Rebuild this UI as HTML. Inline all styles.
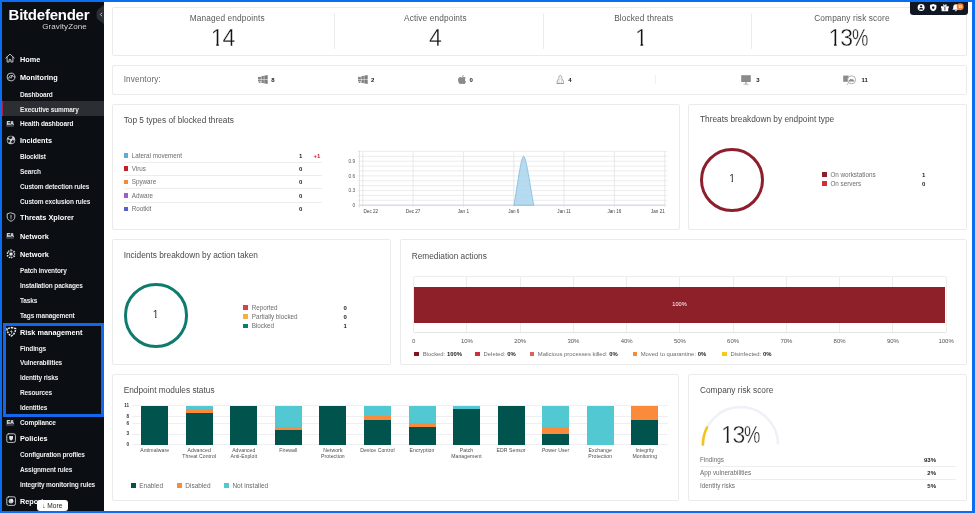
<!DOCTYPE html>
<html lang="en"><head><meta charset="utf-8"><title>GravityZone - Executive summary</title>
<style>
*{box-sizing:border-box;margin:0;padding:0}
html,body{width:975px;height:513px;overflow:hidden}
body{background:#0b6df2;font-family:"Liberation Sans","DejaVu Sans",sans-serif;position:relative;color:#333}
#frame{position:absolute;left:2px;top:2px;width:970.3px;height:508.9px;background:#fff;overflow:hidden}
#side{position:absolute;left:0;top:0;width:101.8px;height:508.9px;background:#0b0e13}
.abs{position:absolute}
.t{position:absolute;white-space:nowrap;line-height:1}
.l1{font-size:7.3px;font-weight:700;color:#fff;left:18px}
.l2{font-size:6.5px;font-weight:700;color:#eceded;left:18px;letter-spacing:-0.14px}
.l3{font-size:6.5px;font-weight:700;color:#f4f4f4;left:18px;letter-spacing:-0.1px}
.sic{position:absolute;overflow:visible}
.ea{position:absolute;left:4.2px;width:8.2px;height:6.2px;background:#393d45;border-radius:1px;color:#fff;font-size:4.9px;font-weight:700;line-height:6.3px;text-align:center;letter-spacing:-0.15px}
.card{position:absolute;background:#fff;border:1px solid #ebebec;border-radius:2px}
.ttl{position:absolute;white-space:nowrap;font-size:8.3px;color:#4a4a4a;line-height:1}
.sm{position:absolute;white-space:nowrap;font-size:6.3px;color:#555;line-height:1}
.b{font-weight:700;color:#222}
.one{display:inline-block;clip-path:polygon(0 -0.2em,1em -0.2em,1em .725em,.35em .725em,.35em 1.2em,.235em 1.2em,.235em .725em,0 .725em)}
.one2{display:inline-block;clip-path:polygon(0 -0.2em,1em -0.2em,1em .68em,.36em .68em,.36em 1.2em,.22em 1.2em,.22em .68em,0 .68em)}
.sq{position:absolute;width:4.5px;height:4.5px;margin:-0.15px 0 0 -0.15px}
.hl{position:absolute;height:1px;background:#ededee}
.vl{position:absolute;width:1px;background:#ececec}
</style></head><body>
<div id="frame">
<div id="side">

<div class="t" style="left:6.6px;top:4.7px;font-size:15px;font-weight:700;color:#fff;letter-spacing:-0.24px">Bitdefender</div>
<div class="t" style="left:40.3px;top:20.7px;font-size:8px;color:#d4d5d7;letter-spacing:0.08px">GravityZone</div>
<svg class="abs" style="left:93.5px;top:2.5px" width="8" height="19" viewBox="0 0 8 19"><path d="M8 0 L2.5 4 Q0.6 5.5 0.6 7.5 V11.5 Q0.6 13.5 2.5 15 L8 19 Z" fill="#2a2e35"/><path d="M6 7.8 L4.4 9.5 L6 11.2" fill="none" stroke="#d0d2d6" stroke-width="0.9"/></svg>
<div class="abs" style="left:0;top:99.3px;width:101.5px;height:14.8px;background:#2b2e33"></div><div class="abs" style="left:0;top:99.3px;width:1.3px;height:14.8px;background:#b0243f"></div>
<div class="t l1" style="top:54.0px">Home</div>
<svg class="sic" style="left:3.3000000000000003px;top:51.1px" width="10" height="10" viewBox="0 0 10 10"><path d="M0.8 5 L5 1.1 L9.2 5 M2.1 4.2 V9 H4.1 V6.6 H5.9 V9 H7.9 V4.2" fill="none" stroke="#cfd2d6" stroke-width="0.9" stroke-linejoin="round" stroke-linecap="round" stroke-width="0.75"/></svg>
<div class="t l1" style="top:72.3px">Monitoring</div>
<svg class="sic" style="left:3.6px;top:70.4px" width="10" height="10" viewBox="0 0 10 10"><circle cx="5" cy="5" r="3.9" fill="none" stroke="#cfd2d6" stroke-width="0.9" stroke-linejoin="round" stroke-linecap="round"/><path d="M5 5.6 L6.6 3.4 M2.8 6.4 A2.7 2.7 0 0 1 7.4 4.3" fill="none" stroke="#cfd2d6" stroke-width="0.9" stroke-linejoin="round" stroke-linecap="round" stroke-width="0.75"/><circle cx="5" cy="5.8" r="0.7" fill="#cfd2d6"/></svg>
<div class="t l2" style="top:89.5px">Dashboard</div>
<div class="t l2" style="top:104.5px">Executive summary</div>
<div class="t l3" style="top:118.8px">Health dashboard</div>
<div class="ea" style="top:119.0px">EA</div>
<div class="t l1" style="top:134.9px">Incidents</div>
<svg class="sic" style="left:3.6px;top:133.0px" width="10" height="10" viewBox="0 0 10 10"><circle cx="5" cy="5" r="3.9" fill="#b9bcc2" stroke="#e4e5e8" stroke-width="0.7"/><path d="M5 5 L2.2 2.6 A3.8 3.8 0 0 1 6.5 1.6 Z M5 5 L8.7 5.6 A3.8 3.8 0 0 1 5.6 8.6 Z M5 5 L2.8 8 A3.8 3.8 0 0 1 1.3 4.6 Z" fill="#1b1e24"/><circle cx="5" cy="5" r="1.1" fill="#e8e9eb"/></svg>
<div class="t l2" style="top:151.8px">Blocklist</div>
<div class="t l2" style="top:166.8px">Search</div>
<div class="t l2" style="top:181.8px">Custom detection rules</div>
<div class="t l2" style="top:196.5px">Custom exclusion rules</div>
<div class="t l1" style="top:211.9px">Threats Xplorer</div>
<svg class="sic" style="left:3.6px;top:210.0px" width="10" height="10" viewBox="0 0 10 10"><path d="M5 0.9 L8.8 2.2 V5 C8.8 7.2 7 8.6 5 9.3 C3 8.6 1.2 7.2 1.2 5 V2.2 Z" fill="none" stroke="#cfd2d6" stroke-width="0.9" stroke-linejoin="round" stroke-linecap="round"/><path d="M5 3.2 V5.6 M5 6.6 V6.9" fill="none" stroke="#cfd2d6" stroke-width="0.9" stroke-linejoin="round" stroke-linecap="round"/></svg>
<div class="t l1" style="top:230.6px">Network</div>
<div class="ea" style="top:231.3px">EA</div>
<div class="t l1" style="top:249.1px">Network</div>
<svg class="sic" style="left:3.6px;top:247.2px" width="10" height="10" viewBox="0 0 10 10"><circle cx="5" cy="5" r="1.5" fill="#e6e7ea"/><path d="M5 0.8 L8.6 2.9 V7.1 L5 9.2 L1.4 7.1 V2.9 Z" fill="none" stroke="#e6e7ea" stroke-width="1.1" stroke-dasharray="1.6 1.1"/><path d="M5 1 V9 M1.5 3 L8.5 7 M8.5 3 L1.5 7" stroke="#e6e7ea" stroke-width="0.5"/></svg>
<div class="t l2" style="top:266.4px">Patch inventory</div>
<div class="t l2" style="top:281.2px">Installation packages</div>
<div class="t l2" style="top:295.6px">Tasks</div>
<div class="t l2" style="top:310.7px">Tags management</div>
<div class="t l1" style="top:327.0px">Risk management</div>
<svg class="sic" style="left:3.6px;top:325.0px" width="10" height="10" viewBox="0 0 10 10"><path d="M5.3 0.6 L9.6 1.6 C9.6 5 7.8 7.6 5.3 9 C2.8 7.6 1 5 1 1.6 Z" fill="none" stroke="#eeeff1" stroke-width="1.5" stroke-dasharray="2 0.9"/><path d="M5.4 2.4 L4.2 5.1 H5.4 L4.9 7.4 L6.7 4.4 H5.5 Z" fill="#f2f2f4"/></svg>
<div class="t l2" style="top:344.0px">Findings</div>
<div class="t l2" style="top:358.2px">Vulnerabilities</div>
<div class="t l2" style="top:372.9px">Identity risks</div>
<div class="t l2" style="top:387.9px">Resources</div>
<div class="t l2" style="top:402.7px">Identities</div>
<div class="t l3" style="top:417.6px">Compliance</div>
<div class="ea" style="top:417.8px">EA</div>
<div class="t l1" style="top:433.3px">Policies</div>
<svg class="sic" style="left:3.6px;top:431.3px" width="10" height="10" viewBox="0 0 10 10"><rect x="0.8" y="0.8" width="8.6" height="8.6" rx="1.6" fill="none" stroke="#cfd2d6" stroke-width="0.9" stroke-linejoin="round" stroke-linecap="round"/><path d="M3.2 3 H7 V5.2 C7 6.4 6 7.1 5.1 7.4 C4.2 7.1 3.2 6.4 3.2 5.2 Z" fill="#dfe0e3"/></svg>
<div class="t l2" style="top:450.4px">Configuration profiles</div>
<div class="t l2" style="top:465.1px">Assignment rules</div>
<div class="t l2" style="top:480.1px">Integrity monitoring rules</div>
<div class="t l1" style="top:496.1px">Reports</div>
<svg class="sic" style="left:3.6px;top:494.1px" width="10" height="10" viewBox="0 0 10 10"><rect x="0.8" y="0.8" width="8.6" height="8.6" rx="1.6" fill="none" stroke="#cfd2d6" stroke-width="0.9" stroke-linejoin="round" stroke-linecap="round"/><circle cx="5" cy="5.2" r="2.4" fill="#c9cbd0"/><path d="M5 5.2 V2.8 A2.4 2.4 0 0 1 7.4 5.2 Z" fill="#f4f4f5"/></svg>
<div class="abs" style="left:1px;top:321.4px;width:100.8px;height:93.7px;border:3px solid #1467ea"></div>
<div class="abs" style="left:35px;top:498.1px;width:30.6px;height:10.6px;background:#fff;border-radius:3px;font-size:6.6px;color:#222;line-height:11.4px;text-align:center;white-space:nowrap">&#8595; More</div>
</div>
<div class="card" style="left:110px;top:4.7px;width:855px;height:49.2px"></div>
<div class="vl" style="left:332.3px;top:11px;height:36px"></div>
<div class="vl" style="left:540.5px;top:11px;height:36px"></div>
<div class="vl" style="left:749.2px;top:11px;height:36px"></div>
<div class="t" style="left:165.2px;width:120px;text-align:center;top:11.7px;font-size:8.3px;color:#595959;letter-spacing:0.12px">Managed endpoints</div>
<div class="t" style="left:160.6px;width:120px;text-align:center;top:24.5px;font-size:23px;color:#141414;letter-spacing:-1px;font-weight:400;-webkit-text-stroke:0.36px #fff"><span class="one">1</span>4</div>
<div class="t" style="left:373.4px;width:120px;text-align:center;top:11.7px;font-size:8.3px;color:#595959;letter-spacing:0.12px">Active endpoints</div>
<div class="t" style="left:373.4px;width:120px;text-align:center;top:24.5px;font-size:23px;color:#141414;letter-spacing:0;font-weight:400;-webkit-text-stroke:0.36px #fff">4</div>
<div class="t" style="left:581.7px;width:120px;text-align:center;top:11.7px;font-size:8.3px;color:#595959;letter-spacing:0.12px">Blocked threats</div>
<div class="t" style="left:579.5px;width:120px;text-align:center;top:24.5px;font-size:23px;color:#141414;letter-spacing:0;font-weight:400;-webkit-text-stroke:0.36px #fff"><span class="one">1</span></div>
<div class="t" style="left:790.0px;width:120px;text-align:center;top:11.7px;font-size:8.3px;color:#595959;letter-spacing:0.12px">Company risk score</div>
<div class="t" style="left:787.8px;width:120px;text-align:center;top:24.5px;font-size:23px;color:#141414;letter-spacing:-1.2px;font-weight:400;-webkit-text-stroke:0.36px #fff"><span class="one">1</span>3<span style="display:inline-block;transform:scaleX(0.8);transform-origin:0 50%">%</span></div>
<div class="card" style="left:110px;top:62.8px;width:855px;height:30px"></div>
<div class="ttl" style="left:121.7px;top:73.6px;font-size:8.2px;color:#686868;letter-spacing:0.12px">Inventory:</div>
<svg class="abs" style="left:255.5px;top:73.1px" width="10" height="9" viewBox="0 0 10 9"><path d="M3.4 1.2 L9.7 0.1 V4.25 H3.4 Z M3.4 4.75 H9.7 V8.9 L3.4 7.8 Z" fill="#7f7f7f"/><path d="M6.1 0.5 V8.4" stroke="#fff" stroke-width="0.45"/><rect x="0" y="1.9" width="2.9" height="2.1" fill="#858585"/><rect x="0" y="4.5" width="2.9" height="1.9" fill="#858585"/><rect x="0.8" y="6.6" width="1.6" height="1.4" fill="#858585"/></svg>
<svg class="abs" style="left:355.5px;top:73.1px" width="10" height="9" viewBox="0 0 10 9"><path d="M3.4 1.2 L9.7 0.1 V4.25 H3.4 Z M3.4 4.75 H9.7 V8.9 L3.4 7.8 Z" fill="#7f7f7f"/><path d="M6.1 0.5 V8.4" stroke="#fff" stroke-width="0.45"/><rect x="0" y="1.9" width="2.9" height="2.1" fill="#858585"/><rect x="0" y="4.5" width="2.9" height="1.9" fill="#858585"/><rect x="0.8" y="6.6" width="1.6" height="1.4" fill="#858585"/></svg>
<div class="t b" style="left:269.2px;top:74.8px;font-size:6px;color:#1a1a1a">8</div>
<div class="t b" style="left:369px;top:74.8px;font-size:6px;color:#1a1a1a">2</div>
<svg class="abs" style="left:455.6px;top:73px" width="8" height="9.4" viewBox="0 0 8 9.4"><path d="M5.6 0 C5.7 0.9 5 1.9 4 1.9 C3.9 1 4.7 0.1 5.6 0 Z M4.1 2.5 C4.6 2.5 5.2 2 6 2.1 C6.8 2.1 7.4 2.5 7.8 3.1 C6.5 3.9 6.7 5.8 8 6.4 C7.6 7.6 6.7 9.2 5.8 9.2 C5.2 9.2 4.9 8.8 4.1 8.8 C3.3 8.8 3 9.2 2.4 9.2 C1.4 9.2 0 7 0 5 C0 3.2 1.1 2.1 2.3 2.1 C3 2.1 3.6 2.5 4.1 2.5 Z" fill="#8b8b8b"/></svg>
<div class="t b" style="left:467.4px;top:74.8px;font-size:6px;color:#1a1a1a">0</div>
<svg class="abs" style="left:553.6px;top:72.9px" width="8.6" height="9.6" viewBox="0 0 8.6 9.6"><path d="M4.3 0.5 C5.3 0.5 5.7 1.3 5.7 2.4 C5.7 3.8 7.6 5.6 7.6 7.4 C7.6 8.2 6.9 8.5 6.2 8.5 H2.4 C1.7 8.5 1 8.2 1 7.4 C1 5.6 2.9 3.8 2.9 2.4 C2.9 1.3 3.3 0.5 4.3 0.5 Z" fill="#fff" stroke="#8a8a8a" stroke-width="0.75"/><ellipse cx="4.3" cy="6" rx="1.5" ry="2.1" fill="none" stroke="#b0b0b0" stroke-width="0.5"/><ellipse cx="2" cy="8.7" rx="1.5" ry="0.65" fill="#8f8f8f"/><ellipse cx="6.6" cy="8.7" rx="1.5" ry="0.65" fill="#8f8f8f"/><path d="M3.8 2.2 h0.25 M4.6 2.2 h0.25" stroke="#777" stroke-width="0.5"/></svg>
<div class="t b" style="left:566.2px;top:74.8px;font-size:6px;color:#1a1a1a">4</div>
<div class="vl" style="left:652.5px;top:73px;height:9px;background:#f0f0f0"></div>
<svg class="abs" style="left:739px;top:72.8px" width="10" height="10" viewBox="0 0 10 10"><rect x="0.2" y="0.2" width="9.6" height="6.8" fill="#8b8b8b"/><rect x="4.3" y="7" width="1.4" height="1.8" fill="#a5a5a5"/><rect x="2.6" y="8.8" width="4.8" height="0.8" fill="#a5a5a5"/></svg>
<div class="t b" style="left:754.2px;top:74.8px;font-size:6px;color:#1a1a1a">3</div>
<svg class="abs" style="left:841.4px;top:72.6px" width="13.4" height="10.4" viewBox="0 0 13.4 10.4"><rect x="0.2" y="0.6" width="5.4" height="6.2" fill="#8b8b8b"/><circle cx="8.6" cy="4.8" r="4" fill="#fff" stroke="#9d9d9d" stroke-width="0.8"/><path d="M5.4 8.4 L3.6 10" stroke="#9d9d9d" stroke-width="0.9"/><path d="M6.2 6.6 C5.4 6.6 5.4 5.4 6.4 5.3 C6.5 4 8.2 3.4 9 4.4 C10 3.8 11.2 4.8 10.8 5.6 C11.6 5.8 11.4 6.6 10.8 6.6 Z" fill="#8b8b8b"/></svg>
<div class="t b" style="left:859.6px;top:74.8px;font-size:6px;color:#1a1a1a">11</div>
<div class="abs" style="left:908.4px;top:0;width:57.6px;height:13.3px;background:#111722;border-radius:0 0 3.2px 3.2px"></div>
<svg class="abs" style="left:908.4px;top:0.2px" width="58" height="13.2" viewBox="910.4 2 58 13.2"><circle cx="921.5" cy="7.6" r="3.5" fill="#fff"/><circle cx="921.5" cy="6.3" r="1.15" fill="#111722"/><path d="M919.4 9.6 C919.6 7.6 923.4 7.6 923.6 9.6 Z" fill="#111722"/><path d="M933.6 4 L936.8 5 V7.4 C936.8 9.4 935.3 10.6 933.6 11.3 C931.9 10.6 930.4 9.4 930.4 7.4 V5 Z" fill="#fff"/><path d="M933.6 6.3 L934.8 6.7 V7.6 C934.8 8.3 934.3 8.8 933.6 9.1 C932.9 8.8 932.4 8.3 932.4 7.6 V6.7 Z" fill="#111722"/><path d="M941.4 6.2 H949.2 V8.2 H948.6 V11.2 H942 V8.2 H941.4 Z" fill="#fff"/><path d="M945.3 6.2 C943.4 6.2 942.8 4.4 944 4.2 C944.9 4.1 945.3 5.4 945.3 6.2 C945.3 5.4 945.7 4.1 946.6 4.2 C947.8 4.4 947.2 6.2 945.3 6.2 Z" fill="#fff"/><rect x="944.95" y="7" width="0.75" height="3.4" fill="#111722"/><path d="M956.3 4.2 C958.2 4.2 958.9 5.6 958.9 7.2 C958.9 8.6 959.4 9.2 960 9.8 H952.6 C953.2 9.2 953.7 8.6 953.7 7.2 C953.7 5.6 954.4 4.2 956.3 4.2 Z" fill="#fff"/><path d="M955.3 10.3 H957.3 C957.3 11.6 955.3 11.6 955.3 10.3 Z" fill="#fff"/><circle cx="960.6" cy="6.8" r="3.5" fill="#f0803a"/><text x="960.6" y="8.1" font-size="3.6" font-weight="700" fill="#fff" text-anchor="middle" font-family="Liberation Sans, sans-serif">15</text></svg>
<div class="card" style="left:110px;top:102px;width:567.5px;height:125.6px"></div>
<div class="ttl" style="left:121.7px;top:114.2px">Top 5 types of blocked threats</div>
<div class="sq" style="left:121.7px;top:151.3px;background:#5aafd9"></div>
<div class="sm" style="left:129.7px;top:150.6px;color:#6c6c6c">Lateral movement</div>
<div class="sm b" style="left:297.1px;top:150.92px;font-size:6px">1</div>
<div class="sq" style="left:121.7px;top:164.5px;background:#c0202c"></div>
<div class="sm" style="left:129.7px;top:163.8px;color:#6c6c6c">Virus</div>
<div class="sm b" style="left:297.1px;top:163.92px;font-size:6px">0</div>
<div class="sq" style="left:121.7px;top:177.9px;background:#f28a3c"></div>
<div class="sm" style="left:129.7px;top:177.2px;color:#6c6c6c">Spyware</div>
<div class="sm b" style="left:297.1px;top:176.92px;font-size:6px">0</div>
<div class="sq" style="left:121.7px;top:191.3px;background:#a05bd0"></div>
<div class="sm" style="left:129.7px;top:190.6px;color:#6c6c6c">Adware</div>
<div class="sm b" style="left:297.1px;top:190.92px;font-size:6px">0</div>
<div class="sq" style="left:121.7px;top:204.9px;background:#5660c8"></div>
<div class="sm" style="left:129.7px;top:204.2px;color:#6c6c6c">Rootkit</div>
<div class="sm b" style="left:297.1px;top:203.92px;font-size:6px">0</div>
<div class="sm" style="left:311.4px;top:150.92px;font-size:6px;color:#c0202c;font-weight:700">+1</div>
<div class="hl" style="left:121.7px;top:159.7px;width:198.5px"></div>
<div class="hl" style="left:121.7px;top:172.9px;width:198.5px"></div>
<div class="hl" style="left:121.7px;top:186.2px;width:198.5px"></div>
<div class="hl" style="left:121.7px;top:199.8px;width:198.5px"></div>
<svg class="abs" style="left:338px;top:138px" width="335" height="85" viewBox="340 140 335 85" font-family="Liberation Sans, DejaVu Sans, sans-serif"><line x1="357.6" y1="205.20" x2="667.2" y2="205.20" stroke="#e7e7e9" stroke-width="0.8"/><line x1="357.6" y1="200.31" x2="667.2" y2="200.31" stroke="#e7e7e9" stroke-width="0.8"/><line x1="357.6" y1="195.42" x2="667.2" y2="195.42" stroke="#e7e7e9" stroke-width="0.8"/><line x1="357.6" y1="190.53" x2="667.2" y2="190.53" stroke="#e7e7e9" stroke-width="0.8"/><line x1="357.6" y1="185.64" x2="667.2" y2="185.64" stroke="#e7e7e9" stroke-width="0.8"/><line x1="357.6" y1="180.75" x2="667.2" y2="180.75" stroke="#e7e7e9" stroke-width="0.8"/><line x1="357.6" y1="175.85" x2="667.2" y2="175.85" stroke="#e7e7e9" stroke-width="0.8"/><line x1="357.6" y1="170.96" x2="667.2" y2="170.96" stroke="#e7e7e9" stroke-width="0.8"/><line x1="357.6" y1="166.07" x2="667.2" y2="166.07" stroke="#e7e7e9" stroke-width="0.8"/><line x1="357.6" y1="161.18" x2="667.2" y2="161.18" stroke="#e7e7e9" stroke-width="0.8"/><line x1="357.6" y1="156.29" x2="667.2" y2="156.29" stroke="#e7e7e9" stroke-width="0.8"/><line x1="357.6" y1="151.40" x2="667.2" y2="151.40" stroke="#e7e7e9" stroke-width="0.8"/><line x1="362.80" y1="151.4" x2="362.80" y2="207.2" stroke="#e3e3e6" stroke-width="0.8"/><line x1="413.12" y1="151.4" x2="413.12" y2="207.2" stroke="#e3e3e6" stroke-width="0.8"/><line x1="463.44" y1="151.4" x2="463.44" y2="207.2" stroke="#e3e3e6" stroke-width="0.8"/><line x1="513.76" y1="151.4" x2="513.76" y2="207.2" stroke="#e3e3e6" stroke-width="0.8"/><line x1="564.08" y1="151.4" x2="564.08" y2="207.2" stroke="#e3e3e6" stroke-width="0.8"/><line x1="614.40" y1="151.4" x2="614.40" y2="207.2" stroke="#e3e3e6" stroke-width="0.8"/><line x1="664.72" y1="151.4" x2="664.72" y2="207.2" stroke="#e3e3e6" stroke-width="0.8"/><line x1="359.5" y1="150.4" x2="359.5" y2="207.7" stroke="#dcdce0" stroke-width="0.8"/><line x1="359.8" y1="205.2" x2="664.72" y2="205.2" stroke="#cfd2e6" stroke-width="1"/><path d="M513.8 205.2 C516.2 195.5 520.6 156.2909090909091 523.6 156.2909090909091 C526.6 156.2909090909091 531.4 195.5 533.9 205.2 Z" fill="#a9d3ec" fill-opacity="0.85" stroke="#72b7de" stroke-width="0.7"/><text x="355.2" y="163.08" font-size="4.8" fill="#555" text-anchor="end">0.9</text><text x="355.2" y="177.75" font-size="4.8" fill="#555" text-anchor="end">0.6</text><text x="355.2" y="192.43" font-size="4.8" fill="#555" text-anchor="end">0.3</text><text x="355.2" y="207.10" font-size="4.8" fill="#555" text-anchor="end">0</text><text x="370.8" y="213.4" font-size="4.6" fill="#444" text-anchor="middle">Dec 22</text><text x="413.1" y="213.4" font-size="4.6" fill="#444" text-anchor="middle">Dec 27</text><text x="463.4" y="213.4" font-size="4.6" fill="#444" text-anchor="middle">Jan 1</text><text x="513.8" y="213.4" font-size="4.6" fill="#444" text-anchor="middle">Jan 6</text><text x="564.1" y="213.4" font-size="4.6" fill="#444" text-anchor="middle">Jan 11</text><text x="614.4" y="213.4" font-size="4.6" fill="#444" text-anchor="middle">Jan 16</text><text x="657.9" y="213.4" font-size="4.6" fill="#444" text-anchor="middle">Jan 21</text></svg>
<div class="card" style="left:686.2px;top:102px;width:279px;height:125.6px"></div>
<div class="ttl" style="left:698px;top:113px">Threats breakdown by endpoint type</div>
<div class="abs" style="left:698px;top:146px;width:64.4px;height:64.4px;border:3.2px solid #8c1f2b;border-radius:50%"></div>
<div class="t" style="left:720.2px;width:20px;text-align:center;top:171.9px;font-size:10.3px;color:#333"><span class="one2">1</span></div>
<div class="sq" style="left:820.5px;top:170.5px;background:#8c1f2b"></div>
<div class="sm" style="left:828.4px;top:170.0px;color:#6c6c6c">On workstations</div>
<div class="sm b" style="left:920.1px;top:169.92px;font-size:6px">1</div>
<div class="sq" style="left:820.5px;top:179.6px;background:#cf2f3c"></div>
<div class="sm" style="left:828.4px;top:179.1px;color:#6c6c6c">On servers</div>
<div class="sm b" style="left:920.1px;top:178.92px;font-size:6px">0</div>
<div class="card" style="left:110px;top:237px;width:279px;height:126.2px"></div>
<div class="ttl" style="left:121.7px;top:248.6px">Incidents breakdown by action taken</div>
<div class="abs" style="left:121.5px;top:281.2px;width:64.4px;height:64.4px;border:3.2px solid #0f7b6e;border-radius:50%"></div>
<div class="t" style="left:143.6px;width:20px;text-align:center;top:308.1px;font-size:10.3px;color:#333"><span class="one2">1</span></div>
<div class="sq" style="left:241.4px;top:303.5px;background:#d8414b"></div>
<div class="sm" style="left:249.7px;top:302.9px;color:#6c6c6c">Reported</div>
<div class="sm b" style="left:341.4px;top:302.92px;font-size:6px">0</div>
<div class="sq" style="left:241.4px;top:312.5px;background:#f5b040"></div>
<div class="sm" style="left:249.7px;top:311.9px;color:#6c6c6c">Partially blocked</div>
<div class="sm b" style="left:341.4px;top:311.92px;font-size:6px">0</div>
<div class="sq" style="left:241.4px;top:321.7px;background:#0f7b6e"></div>
<div class="sm" style="left:249.7px;top:321.1px;color:#6c6c6c">Blocked</div>
<div class="sm b" style="left:341.4px;top:320.92px;font-size:6px">1</div>
<div class="card" style="left:398.2px;top:237px;width:567px;height:126.4px"></div>
<div class="ttl" style="left:409.7px;top:249.6px">Remediation actions</div>
<div class="vl" style="left:411.2px;top:274.6px;height:55.8px"></div>
<div class="sm" style="left:396.7px;width:30px;text-align:center;top:335.6px;font-size:6px;color:#555">0</div>
<div class="vl" style="left:464.4px;top:274.6px;height:55.8px"></div>
<div class="sm" style="left:449.9px;width:30px;text-align:center;top:335.6px;font-size:6px;color:#555">10%</div>
<div class="vl" style="left:517.7px;top:274.6px;height:55.8px"></div>
<div class="sm" style="left:503.2px;width:30px;text-align:center;top:335.6px;font-size:6px;color:#555">20%</div>
<div class="vl" style="left:570.9px;top:274.6px;height:55.8px"></div>
<div class="sm" style="left:556.4px;width:30px;text-align:center;top:335.6px;font-size:6px;color:#555">30%</div>
<div class="vl" style="left:624.2px;top:274.6px;height:55.8px"></div>
<div class="sm" style="left:609.7px;width:30px;text-align:center;top:335.6px;font-size:6px;color:#555">40%</div>
<div class="vl" style="left:677.4px;top:274.6px;height:55.8px"></div>
<div class="sm" style="left:662.9px;width:30px;text-align:center;top:335.6px;font-size:6px;color:#555">50%</div>
<div class="vl" style="left:730.6px;top:274.6px;height:55.8px"></div>
<div class="sm" style="left:716.1px;width:30px;text-align:center;top:335.6px;font-size:6px;color:#555">60%</div>
<div class="vl" style="left:783.9px;top:274.6px;height:55.8px"></div>
<div class="sm" style="left:769.4px;width:30px;text-align:center;top:335.6px;font-size:6px;color:#555">70%</div>
<div class="vl" style="left:837.1px;top:274.6px;height:55.8px"></div>
<div class="sm" style="left:822.6px;width:30px;text-align:center;top:335.6px;font-size:6px;color:#555">80%</div>
<div class="vl" style="left:890.4px;top:274.6px;height:55.8px"></div>
<div class="sm" style="left:875.9px;width:30px;text-align:center;top:335.6px;font-size:6px;color:#555">90%</div>
<div class="vl" style="left:943.6px;top:274.6px;height:55.8px"></div>
<div class="sm" style="left:929.1px;width:30px;text-align:center;top:335.6px;font-size:6px;color:#555">100%</div>
<div class="hl" style="left:411.7px;top:274.4px;width:532.4px;background:#ededed"></div>
<div class="hl" style="left:411.7px;top:330px;width:532.4px;background:#e4e4e4"></div>
<div class="abs" style="left:411.7px;top:284.8px;width:531.5px;height:36px;background:#8e2029"></div>
<div class="sm" style="left:662.5px;width:30px;text-align:center;top:300.0px;font-size:5.6px;color:#fff">100%</div>
<div class="sq" style="left:412.6px;top:349.7px;background:#7d1620"></div>
<div class="sm" style="left:420.7px;top:349.7px;font-size:5.9px;color:#6c6c6c">Blocked: <span class="b" style="font-size:5.9px">100%</span></div>
<div class="sq" style="left:473.6px;top:349.7px;background:#cf2f3c"></div>
<div class="sm" style="left:481.6px;top:349.7px;font-size:5.9px;color:#6c6c6c">Deleted: <span class="b" style="font-size:5.9px">0%</span></div>
<div class="sq" style="left:527.7px;top:349.7px;background:#e2605c"></div>
<div class="sm" style="left:535.8px;top:349.7px;font-size:5.9px;color:#6c6c6c">Malicious processes killed: <span class="b" style="font-size:5.9px">0%</span></div>
<div class="sq" style="left:631px;top:349.7px;background:#f58c3c"></div>
<div class="sm" style="left:638.7px;top:349.7px;font-size:5.9px;color:#6c6c6c">Moved to quarantine: <span class="b" style="font-size:5.9px">0%</span></div>
<div class="sq" style="left:720.3px;top:349.7px;background:#f7c91c"></div>
<div class="sm" style="left:728.5px;top:349.7px;font-size:5.9px;color:#6c6c6c">Disinfected: <span class="b" style="font-size:5.9px">0%</span></div>
<div class="card" style="left:109.6px;top:372.2px;width:567.8px;height:126.4px"></div>
<div class="ttl" style="left:121.7px;top:384.2px">Endpoint modules status</div>
<div class="hl" style="left:130.4px;top:403.3px;width:535.4px;background:#efeff1"></div>
<div class="sm b" style="left:118px;width:9px;text-align:right;top:402.2px;font-size:4.6px;color:#333">11</div>
<div class="hl" style="left:130.4px;top:413.9px;width:535.4px;background:#efeff1"></div>
<div class="sm b" style="left:118px;width:9px;text-align:right;top:412.8px;font-size:4.6px;color:#333">8</div>
<div class="hl" style="left:130.4px;top:420.9px;width:535.4px;background:#efeff1"></div>
<div class="sm b" style="left:118px;width:9px;text-align:right;top:419.8px;font-size:4.6px;color:#333">6</div>
<div class="hl" style="left:130.4px;top:431.5px;width:535.4px;background:#efeff1"></div>
<div class="sm b" style="left:118px;width:9px;text-align:right;top:430.4px;font-size:4.6px;color:#333">3</div>
<div class="hl" style="left:130.4px;top:442.1px;width:535.4px;background:#efeff1"></div>
<div class="sm b" style="left:118px;width:9px;text-align:right;top:441.0px;font-size:4.6px;color:#333">0</div>
<div class="abs" style="left:139.2px;top:403.80px;width:27px;height:38.80px;background:#01534d"></div>
<div class="sm" style="left:127.7px;width:50px;text-align:center;top:446.4px;font-size:5.1px;line-height:5.75px;letter-spacing:0.08px;color:#4a4a4a;white-space:normal">Antimalware</div>
<div class="abs" style="left:183.8px;top:410.85px;width:27px;height:31.75px;background:#01534d"></div>
<div class="abs" style="left:183.8px;top:407.33px;width:27px;height:3.53px;background:#fa8b3b"></div>
<div class="abs" style="left:183.8px;top:403.80px;width:27px;height:3.53px;background:#52c8d2"></div>
<div class="sm" style="left:172.2px;width:50px;text-align:center;top:446.4px;font-size:5.1px;line-height:5.75px;letter-spacing:0.08px;color:#4a4a4a;white-space:normal">Advanced<br>Threat Control</div>
<div class="abs" style="left:228.3px;top:403.80px;width:27px;height:38.80px;background:#01534d"></div>
<div class="sm" style="left:216.8px;width:50px;text-align:center;top:446.4px;font-size:5.1px;line-height:5.75px;letter-spacing:0.08px;color:#4a4a4a;white-space:normal">Advanced<br>Anti-Exploit</div>
<div class="abs" style="left:272.8px;top:428.49px;width:27px;height:14.11px;background:#01534d"></div>
<div class="abs" style="left:272.8px;top:424.96px;width:27px;height:3.53px;background:#fa8b3b"></div>
<div class="abs" style="left:272.8px;top:403.80px;width:27px;height:21.16px;background:#52c8d2"></div>
<div class="sm" style="left:261.3px;width:50px;text-align:center;top:446.4px;font-size:5.1px;line-height:5.75px;letter-spacing:0.08px;color:#4a4a4a;white-space:normal">Firewall</div>
<div class="abs" style="left:317.4px;top:403.80px;width:27px;height:38.80px;background:#01534d"></div>
<div class="sm" style="left:305.9px;width:50px;text-align:center;top:446.4px;font-size:5.1px;line-height:5.75px;letter-spacing:0.08px;color:#4a4a4a;white-space:normal">Network<br>Protection</div>
<div class="abs" style="left:361.9px;top:417.91px;width:27px;height:24.69px;background:#01534d"></div>
<div class="abs" style="left:361.9px;top:414.38px;width:27px;height:3.53px;background:#fa8b3b"></div>
<div class="abs" style="left:361.9px;top:403.80px;width:27px;height:10.58px;background:#52c8d2"></div>
<div class="sm" style="left:350.4px;width:50px;text-align:center;top:446.4px;font-size:5.1px;line-height:5.75px;letter-spacing:0.08px;color:#4a4a4a;white-space:normal">Device Control</div>
<div class="abs" style="left:406.5px;top:424.96px;width:27px;height:17.64px;background:#01534d"></div>
<div class="abs" style="left:406.5px;top:421.44px;width:27px;height:3.53px;background:#fa8b3b"></div>
<div class="abs" style="left:406.5px;top:403.80px;width:27px;height:17.64px;background:#52c8d2"></div>
<div class="sm" style="left:395.0px;width:50px;text-align:center;top:446.4px;font-size:5.1px;line-height:5.75px;letter-spacing:0.08px;color:#4a4a4a;white-space:normal">Encryption</div>
<div class="abs" style="left:451.0px;top:407.33px;width:27px;height:35.27px;background:#01534d"></div>
<div class="abs" style="left:451.0px;top:403.80px;width:27px;height:3.53px;background:#52c8d2"></div>
<div class="sm" style="left:439.5px;width:50px;text-align:center;top:446.4px;font-size:5.1px;line-height:5.75px;letter-spacing:0.08px;color:#4a4a4a;white-space:normal">Patch<br>Management</div>
<div class="abs" style="left:495.6px;top:403.80px;width:27px;height:38.80px;background:#01534d"></div>
<div class="sm" style="left:484.1px;width:50px;text-align:center;top:446.4px;font-size:5.1px;line-height:5.75px;letter-spacing:0.08px;color:#4a4a4a;white-space:normal">EDR Sensor</div>
<div class="abs" style="left:540.1px;top:432.02px;width:27px;height:10.58px;background:#01534d"></div>
<div class="abs" style="left:540.1px;top:424.96px;width:27px;height:7.05px;background:#fa8b3b"></div>
<div class="abs" style="left:540.1px;top:403.80px;width:27px;height:21.16px;background:#52c8d2"></div>
<div class="sm" style="left:528.6px;width:50px;text-align:center;top:446.4px;font-size:5.1px;line-height:5.75px;letter-spacing:0.08px;color:#4a4a4a;white-space:normal">Power User</div>
<div class="abs" style="left:584.7px;top:403.80px;width:27px;height:38.80px;background:#52c8d2"></div>
<div class="sm" style="left:573.2px;width:50px;text-align:center;top:446.4px;font-size:5.1px;line-height:5.75px;letter-spacing:0.08px;color:#4a4a4a;white-space:normal">Exchange<br>Protection</div>
<div class="abs" style="left:629.2px;top:417.91px;width:27px;height:24.69px;background:#01534d"></div>
<div class="abs" style="left:629.2px;top:403.80px;width:27px;height:14.11px;background:#fa8b3b"></div>
<div class="sm" style="left:617.8px;width:50px;text-align:center;top:446.4px;font-size:5.1px;line-height:5.75px;letter-spacing:0.08px;color:#4a4a4a;white-space:normal">Integrity<br>Monitoring</div>
<div class="sq" style="left:129.2px;top:481.4px;background:#01534d"></div>
<div class="sm" style="left:137.2px;top:480.9px;font-size:6.5px;color:#6a6a6a">Enabled</div>
<div class="sq" style="left:175.3px;top:481.4px;background:#fa8b3b"></div>
<div class="sm" style="left:183.3px;top:480.9px;font-size:6.5px;color:#6a6a6a">Disabled</div>
<div class="sq" style="left:222.6px;top:481.4px;background:#52c8d2"></div>
<div class="sm" style="left:230.4px;top:480.9px;font-size:6.5px;color:#6a6a6a">Not installed</div>
<div class="card" style="left:686.2px;top:372.2px;width:279px;height:126.4px"></div>
<div class="ttl" style="left:698px;top:384.3px">Company risk score</div>
<svg class="abs" style="left:693px;top:398px" width="95" height="50" viewBox="695 400 95 50"><path d="M702.9 444.6 A37.6 37.6 0 0 1 778.1 444.6" fill="none" stroke="#eff1f7" stroke-width="2.6"/><path d="M702.9 444.6 A37.6 37.6 0 0 1 707.00 427.53" fill="none" stroke="#f5c21b" stroke-width="2.6" stroke-linecap="round"/></svg>
<div class="t" style="left:718.9px;top:422.0px;font-size:23px;color:#1c1c1c;letter-spacing:-1.2px;-webkit-text-stroke:0.36px #fff"><span class="one">1</span>3<span style="display:inline-block;transform:scaleX(0.8);transform-origin:0 50%">%</span></div>
<div class="sm" style="left:698px;top:455.0px;color:#6c6c6c">Findings</div>
<div class="sm b" style="left:904px;width:30px;text-align:right;top:454.92px;font-size:6px">93%</div>
<div class="sm" style="left:698px;top:468.3px;color:#6c6c6c">App vulnerabilities</div>
<div class="sm b" style="left:904px;width:30px;text-align:right;top:467.92px;font-size:6px">2%</div>
<div class="sm" style="left:698px;top:481.3px;color:#6c6c6c">Identity risks</div>
<div class="sm b" style="left:904px;width:30px;text-align:right;top:480.92px;font-size:6px">5%</div>
<div class="hl" style="left:698px;top:463.7px;width:256px"></div>
<div class="hl" style="left:698px;top:476.7px;width:256px"></div>
</div></body></html>
